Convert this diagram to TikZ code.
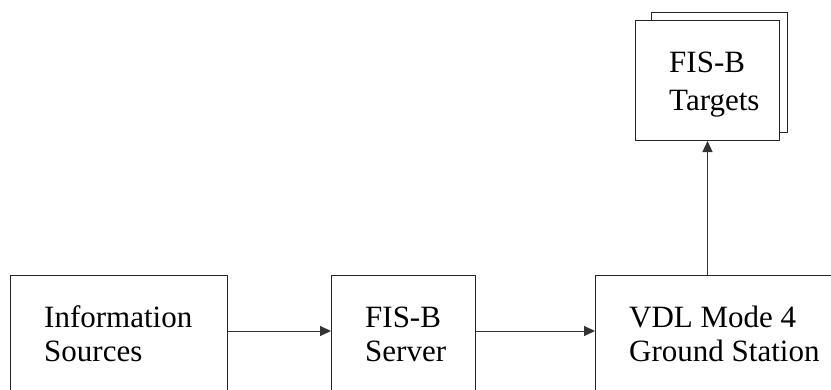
\documentclass[tikz,border=0pt]{standalone}
\usepackage{fontspec}
\setmainfont{Liberation Serif}
\usetikzlibrary{arrows.meta}
\begin{document}
\begin{tikzpicture}[x=1bp,y=1bp,
  box/.style={draw=black!85, line width=1bp, fill=white, inner sep=0pt, anchor=north west},
  lbl/.style={anchor=base west, inner sep=0pt, font=\fontsize{31bp}{34bp}\selectfont},
  arr/.style={draw=black!80, line width=1bp, -{Triangle[length=11bp,width=10bp]}}]
\useasboundingbox (0,0) rectangle (831,389);
\clip (0,0) rectangle (831,389);
% bottom boxes (cut off by the frame)
\node[box, minimum width=217bp, minimum height=145bp] (b1) at (10,114) {};
\node[box, minimum width=144bp, minimum height=145bp] (b2) at (331,114) {};
\node[box, minimum width=280bp, minimum height=145bp] (b3) at (595,114) {};
% stacked target boxes
\node[box, minimum width=136bp, minimum height=120bp] (tb) at (651,377) {};
\node[box, minimum width=144bp, minimum height=120bp] (tf) at (635,369) {};
% labels
\node[lbl] (l1a) at (44,61.3) {Information};
\node[lbl] (l1b) at (44,27.3) {Sources};
\node[lbl] (l2a) at (365,61.3) {FIS-B};
\node[lbl] (l2b) at (365,27.3) {Server};
\node[lbl] (l3a) at (629,61.3) {VDL Mode 4};
\node[lbl] (l3b) at (629,27.3) {Ground Station};
\node[lbl] (l4a) at (669,316.7) {FIS-B};
\node[lbl] (l4b) at (669,279) {Targets};
% connectors
\coordinate (ay) at (0,58);
\draw[arr] (b1.east |- ay) -- (b2.west |- ay);
\draw[arr] (b2.east |- ay) -- (b3.west |- ay);
\draw[arr] (tf.south |- b3.north) -- (tf.south);
\end{tikzpicture}
\end{document}
